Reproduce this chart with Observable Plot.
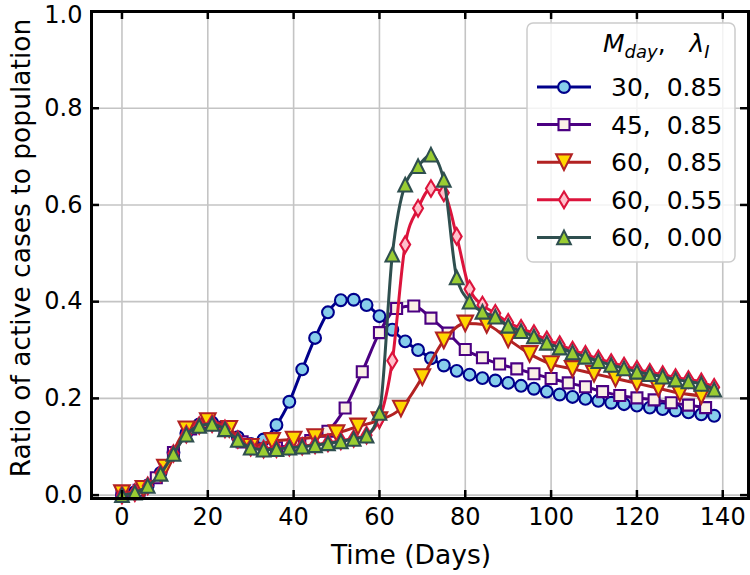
<!DOCTYPE html>
<html><head><meta charset="utf-8">
<script src="https://cdn.jsdelivr.net/npm/d3@7"></script>
<script src="https://cdn.jsdelivr.net/npm/@observablehq/plot@0.6"></script>
<style>
body{margin:0;background:#fff;}
#chart{width:750px;height:575px;}
</style></head><body><div id="chart"></div>
<script>
// ---------------- data ----------------
const xTicks = [0, 20, 40, 60, 80, 100, 120, 140];
const yTicks = [0, 0.2, 0.4, 0.6, 0.8, 1.0];
const xLabel = "Time (Days)";
const yLabel = "Ratio of active cases to population";
const seriesLabels = ["30,  0.85", "45,  0.85", "60,  0.85", "60,  0.55", "60,  0.00"];

const days3 = [0,3,6,9,12,15,18,21,24,27,30,33,36,39,42,45,48,51,54,57,60,63,66,69,72,75,78,81,84,87,90,93,96,99,102,105,108,111,114,117,120,123,126,129,132,135,138];
const days4 = [0,4,8,12,16,20,24,28,32,36,40,44,48,52,56,60,64,68,72,76,80,84,88,92,96,100,104,108,112,116,120,124,128,132,136];
const days5 = [0,5,10,15,20,25,30,35,40,45,50,55,60,65,70,75,80,85,90,95,100,105,110,115,120,125,130,135];

const m30_085 = [0.000,0.006,0.020,0.046,0.088,0.128,0.146,0.150,0.140,0.120,0.106,0.115,0.145,0.193,0.260,0.325,0.378,0.403,0.404,0.393,0.370,0.342,0.318,0.300,0.283,0.268,0.257,0.249,0.242,0.237,0.232,0.226,0.220,0.214,0.208,0.203,0.199,0.195,0.191,0.188,0.185,0.181,0.178,0.175,0.171,0.167,0.164];
const m45_085 = [0.000,0.010,0.036,0.088,0.137,0.150,0.140,0.110,0.096,0.098,0.104,0.113,0.132,0.180,0.255,0.336,0.386,0.391,0.366,0.335,0.301,0.284,0.271,0.261,0.251,0.241,0.232,0.224,0.214,0.206,0.201,0.197,0.191,0.186,0.181];
const m60_085 = [0.004,0.013,0.057,0.136,0.153,0.137,0.100,0.112,0.115,0.120,0.128,0.142,0.155,0.179,0.244,0.320,0.355,0.352,0.322,0.292,0.271,0.261,0.251,0.241,0.231,0.221,0.211,0.205];
const m60_055 = [0.000,0.005,0.019,0.045,0.086,0.126,0.144,0.148,0.137,0.115,0.099,0.095,0.096,0.099,0.101,0.104,0.108,0.112,0.117,0.124,0.158,0.278,0.518,0.593,0.634,0.625,0.535,0.426,0.393,0.376,0.357,0.345,0.334,0.321,0.311,0.300,0.291,0.282,0.274,0.267,0.260,0.254,0.249,0.243,0.239,0.234,0.223];
const m60_000 = [0.000,0.005,0.019,0.044,0.085,0.125,0.143,0.147,0.136,0.114,0.098,0.094,0.095,0.098,0.100,0.103,0.107,0.111,0.116,0.123,0.170,0.497,0.642,0.680,0.704,0.652,0.450,0.400,0.379,0.369,0.350,0.339,0.328,0.315,0.305,0.295,0.286,0.277,0.269,0.262,0.255,0.250,0.245,0.239,0.235,0.230,0.218];

// ---------------- symbols ----------------
const sym = fn => ({draw(ctx, size){ const R = Math.sqrt(size / Math.PI); fn(ctx, R); }});
const circleSym = sym((c,R)=>{ c.moveTo(R,0); c.arc(0,0,R,0,2*Math.PI); c.closePath(); });
const squareSym = sym((c,R)=>{ c.moveTo(-R,-R); c.lineTo(R,-R); c.lineTo(R,R); c.lineTo(-R,R); c.closePath(); });
const triDownSym = sym((c,R)=>{ c.moveTo(0,R); c.lineTo(-R,-R); c.lineTo(R,-R); c.closePath(); });
const triUpSym = sym((c,R)=>{ c.moveTo(0,-R); c.lineTo(R,R); c.lineTo(-R,R); c.closePath(); });
const thinDiamondSym = sym((c,R)=>{ c.moveTo(0,-R); c.lineTo(0.6*R,0); c.lineTo(0,R); c.lineTo(-0.6*R,0); c.closePath(); });

const series = [
  {label: seriesLabels[0], days: days3, vals: m30_085, line: "#00008B", fill: "#87CEEB", symbol: circleSym, r: 5.9},
  {label: seriesLabels[1], days: days4, vals: m45_085, line: "#4B0082", fill: "#FAF0E6", symbol: squareSym, r: 5.5},
  {label: seriesLabels[2], days: days5, vals: m60_085, line: "#B22222", fill: "#FFD700", symbol: triDownSym, r: 7.8},
  {label: seriesLabels[3], days: days3, vals: m60_055, line: "#DC143C", fill: "#FFC0CB", symbol: thinDiamondSym, r: 8.3},
  {label: seriesLabels[4], days: days3, vals: m60_000, line: "#2F4F4F", fill: "#9ACD32", symbol: triUpSym, r: 6.8}
];

// ---------------- chart ----------------
const W = 750, H = 575, mL = 91, mR = 2, mT = 11, mB = 77;
const plotH = H - mT - mB, plotW = W - mL - mR;
const tickLen = 8;
const FS = 24, LFS = 26.5;

const seriesMarks = series.flatMap(s => {
  const data = s.days.map((d, i) => ({t: d, v: s.vals[i]}));
  return [
    Plot.line(data, {x: "t", y: "v", stroke: s.line, strokeWidth: 3, curve: "monotone-x"}),
    Plot.dot(data, {x: "t", y: "v", symbol: s.symbol, r: s.r, fill: s.fill, stroke: s.line, strokeWidth: 2.1, strokeLinejoin: "miter", fillOpacity: 1})
  ];
});

const plot = Plot.plot({
  width: W, height: H,
  marginLeft: mL, marginRight: mR, marginTop: mT, marginBottom: mB,
  style: {fontFamily: "DejaVu Sans", fontSize: FS + "px", background: "white", color: "black", overflow: "visible"},
  x: {domain: [-7.1, 146], ticks: xTicks, tickSize: 0, tickPadding: 9, label: null, tickFormat: d => String(d)},
  y: {domain: [-0.007, 1.0], ticks: yTicks, tickSize: 0, tickPadding: 9, label: null, tickFormat: d => d.toFixed(1)},
  marks: [
    Plot.gridX(xTicks, {stroke: "#c4c4c4", strokeOpacity: 1, strokeWidth: 1.6}),
    Plot.gridY(yTicks, {stroke: "#c4c4c4", strokeOpacity: 1, strokeWidth: 1.6}),
    ...seriesMarks,
    Plot.tickX(xTicks, {x: d => d, insetTop: plotH - tickLen, stroke: "black", strokeWidth: 2.5}),
    Plot.tickX(xTicks, {x: d => d, insetBottom: plotH - tickLen, stroke: "black", strokeWidth: 2.5}),
    Plot.tickY(yTicks, {y: d => d, insetRight: plotW - tickLen, stroke: "black", strokeWidth: 2.5}),
    Plot.tickY(yTicks, {y: d => d, insetLeft: plotW - tickLen, stroke: "black", strokeWidth: 2.5}),
    Plot.frame({stroke: "black", strokeWidth: 3})
  ]
});
document.getElementById("chart").appendChild(plot);

// nudge the topmost y tick label slightly down so it is not clipped at the top edge
const svg = d3.select(plot);
svg.selectAll("text").filter(function(){ return this.textContent === "1.0"; }).each(function(){
  const g = document.createElementNS("http://www.w3.org/2000/svg", "g");
  g.setAttribute("transform", "translate(0,3.5)");
  this.parentNode.insertBefore(g, this);
  g.appendChild(this);
});

// ---------------- axis labels & legend ----------------
svg.append("text").attr("x", 411).attr("y", 564)
  .attr("text-anchor", "middle").attr("font-size", LFS).attr("fill", "black").text(xLabel);
svg.append("text").attr("transform", `translate(22,248) rotate(-90)`)
  .attr("text-anchor", "middle").attr("dominant-baseline", "middle").attr("font-size", LFS).attr("fill", "black").text(yLabel);

const lg = svg.append("g").attr("font-family", "DejaVu Sans").attr("text-anchor", "start");
lg.append("rect").attr("x", 527).attr("y", 23).attr("width", 208).attr("height", 239).attr("rx", 6)
  .attr("fill", "white").attr("fill-opacity", 0.8).attr("stroke", "#cccccc").attr("stroke-width", 1.5);
const title = lg.append("text").attr("x", 603).attr("y", 52).attr("font-size", 25).attr("fill", "black")
  .attr("text-anchor", "start").style("white-space", "pre");
title.append("tspan").attr("font-style", "italic").text("M");
title.append("tspan").attr("font-style", "italic").attr("font-size", 18).attr("dy", 6).text("day");
title.append("tspan").attr("dy", -6).text(",   ");
title.append("tspan").attr("font-style", "italic").text("λ");
title.append("tspan").attr("font-style", "italic").attr("font-size", 18).attr("dy", 6).text("I");

series.forEach((s, i) => {
  const cy = 87 + i * 37.6;
  lg.append("line").attr("x1", 537).attr("x2", 591).attr("y1", cy).attr("y2", cy)
    .attr("stroke", s.line).attr("stroke-width", 3);
  const p = d3.path();
  s.symbol.draw(p, Math.PI * s.r * s.r);
  lg.append("path").attr("d", p.toString()).attr("transform", `translate(564,${cy})`)
    .attr("fill", s.fill).attr("stroke", s.line).attr("stroke-width", 2.1).attr("stroke-linejoin", "miter");
  lg.append("text").attr("x", 611).attr("y", cy + 9).attr("font-size", 25).attr("fill", "black")
    .attr("text-anchor", "start").style("white-space", "pre").text(s.label);
});
</script></body></html>
